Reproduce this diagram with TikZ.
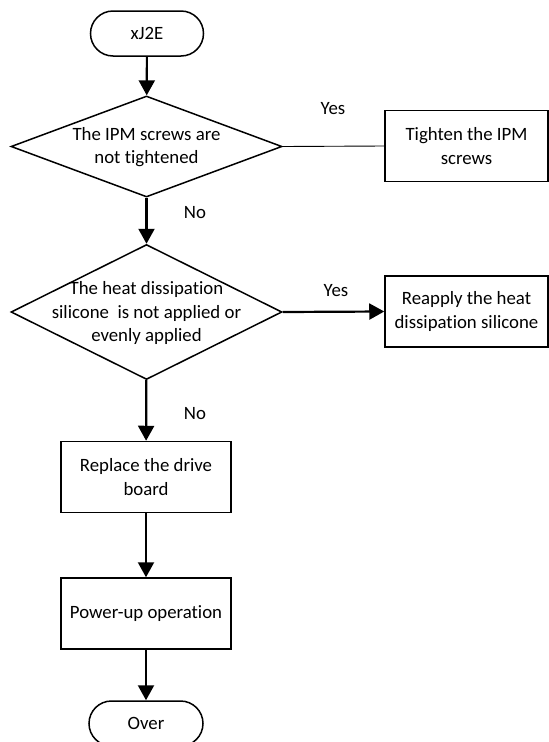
\documentclass[tikz,border=0pt]{standalone}
\usepackage{fontspec}
\setmainfont{Carlito}[Ligatures={NoCommon}]
\usetikzlibrary{shapes.geometric,shapes.misc,arrows.meta}

\definecolor{fcLine}{RGB}{0,0,0}

\tikzset{
  fctext/.style={font=\fontsize{18.8}{23.5}\selectfont, align=center, inner sep=0pt},
  fcterm/.style={draw=fcLine, line width=1.5pt, rounded rectangle, minimum width=113pt, minimum height=45pt, inner sep=0pt, fctext},
  fcbox/.style={draw=fcLine, line width=1.5pt, rectangle, minimum height=71pt, inner sep=0pt, fctext},
  fcdecision/.style={draw=fcLine, line width=1.5pt, diamond, aspect=2.68, minimum width=271pt, minimum height=101pt, inner sep=0pt},
  fcflow/.style={draw=fcLine, line width=2.2pt, -{Triangle[length=15pt, width=16pt]}},
  fcthin/.style={draw=fcLine, line width=0.9pt},
}

\begin{document}
\begin{tikzpicture}[x=1pt, y=-1pt]
  \useasboundingbox (0,0) rectangle (549,742);
  % start and first check
  \node[fcterm] (start) at (147,33.5) {xJ2E};
  \node[fcdecision] (screws) at (146.5,146.5) {};
  \node[fctext] (screwsText) at (146.5,147) {The IPM screws are\\not tightened};
  \node[fcbox, minimum width=163pt] (tighten) at (466.5,146) {Tighten the IPM\\screws};
  % second check
  \node[fcdecision, minimum height=135pt, aspect=2.0] (silicone) at (146.5,312) {};
  \node[fctext] (siliconeText) at (146.5,313) {The heat dissipation\\silicone\ \ is not applied or\\evenly applied};
  \node[fcbox, minimum width=163pt] (reapply) at (466.5,311.5) {Reapply the heat\\dissipation silicone};
  % remaining steps
  \node[fcbox, minimum width=170pt] (replace) at (146,477) {Replace the drive\\board};
  \node[fcbox, minimum width=170pt] (powerup) at (146,613.5) {Power-up operation};
  \node[fcterm, minimum width=114pt] (over) at (146,723.5) {Over};
  % branch labels
  \node[fctext] (yesA) at (333,109) {Yes};
  \node[fctext] (noA) at (195,213) {No};
  \node[fctext] (yesB) at (336,291) {Yes};
  \node[fctext] (noB) at (195,414) {No};
  % connectors
  \draw[fcflow] (start) -- (screws);
  \draw[fcthin] (screws.east) -- (tighten.west);
  \draw[fcflow] (screws) -- (silicone);
  \draw[fcflow] (silicone.east) -- (reapply.west);
  \draw[fcflow] (silicone) -- (replace);
  \draw[fcflow] (replace) -- (powerup);
  \draw[fcflow] (powerup) -- (over);
\end{tikzpicture}
\end{document}
